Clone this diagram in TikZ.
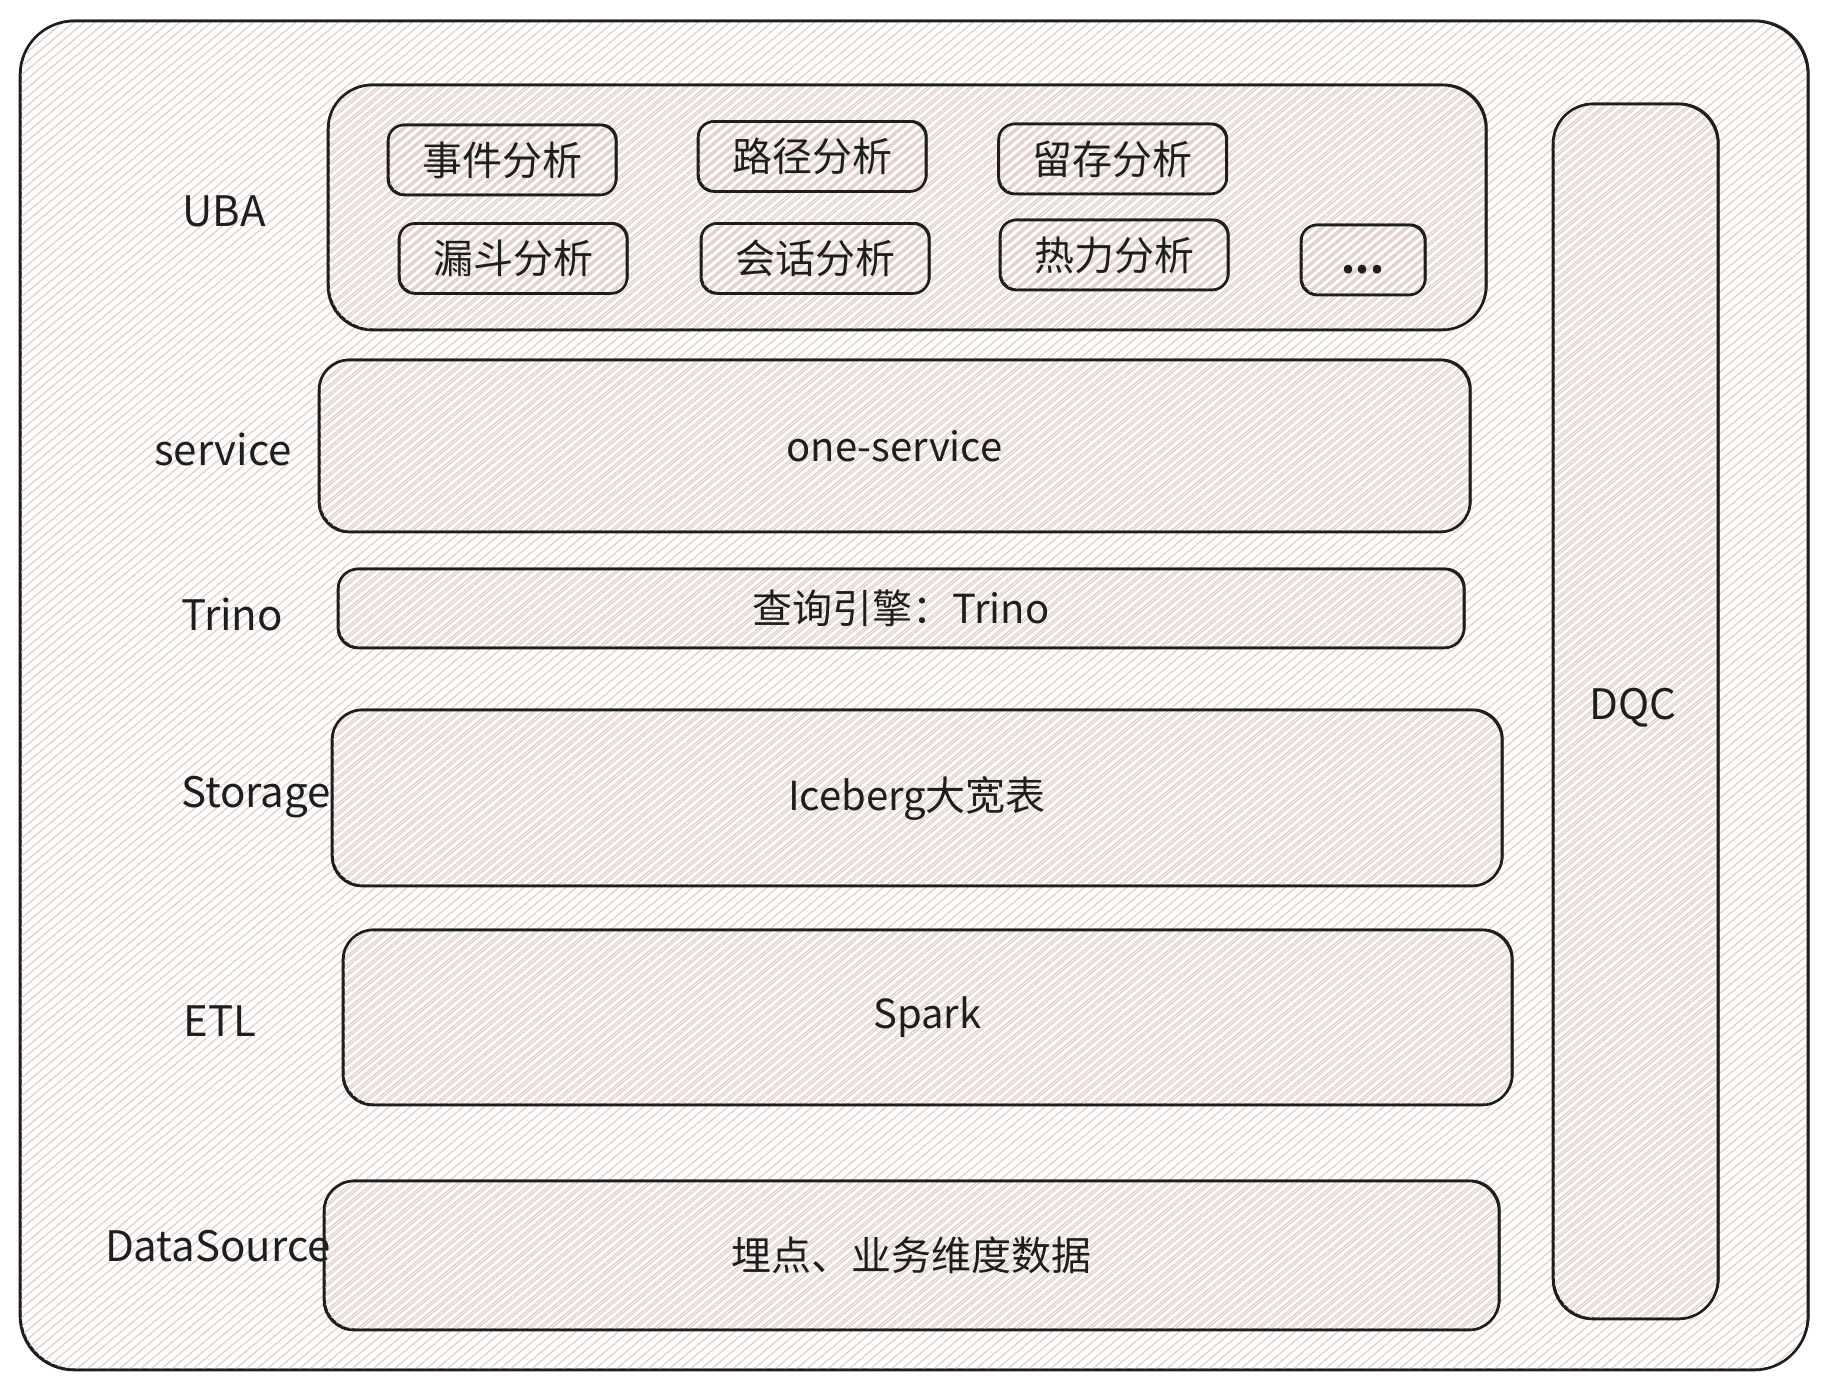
\documentclass[tikz,border=0pt]{standalone}
\usepackage{fontspec}
\setmainfont{Noto Sans CJK SC}
\usetikzlibrary{patterns.meta}
\definecolor{hatch}{RGB}{226,210,203}
\definecolor{ink}{RGB}{30,30,30}
\begin{document}
\begin{tikzpicture}[x=0.5pt,y=-0.5pt,
  every node/.style={inner sep=0pt, text=ink, font=\fontsize{20pt}{24pt}\selectfont},
  sk/.style={draw=ink, line width=1.3pt, line join=round,
    preaction={draw=ink, line width=0.5pt, transform canvas={xshift=0.6pt,yshift=0.5pt}}},
  outerbox/.style={sk, rounded corners=27pt,
    pattern={Lines[angle=40,distance=3.4pt,line width=0.7pt]}, pattern color=hatch},
  layerbox/.style={sk,
    pattern={Lines[angle=40,distance=3.4pt,line width=0.7pt,xshift=1.7pt]}, pattern color=hatch},
  smallbox/.style={sk, rounded corners=8pt, minimum width=114pt, minimum height=35pt,
    pattern={Lines[angle=40,distance=3.4pt,line width=0.6pt,xshift=0.85pt]}, pattern color=hatch},
  lab/.style={font=\fontsize{21pt}{24pt}\selectfont}
]
\useasboundingbox (0,0) rectangle (1828,1389);
% outer frame
\node[outerbox, minimum width=894pt, minimum height=674.5pt] (outer) at (914,695.5) {};
% UBA container
\node[layerbox, rounded corners=22pt, minimum width=579pt, minimum height=122.5pt] (uba) at (907,207.5) {};
\node[smallbox] (b1) at (502,160) {事件分析};
\node[smallbox] (b2) at (812,156.5) {路径分析};
\node[smallbox] (b3) at (1112.5,159) {留存分析};
\node[smallbox] (b4) at (513,258.5) {漏斗分析};
\node[smallbox] (b5) at (815,258.5) {会话分析};
\node[smallbox] (b6) at (1114,255) {热力分析};
\node[smallbox, minimum width=62pt] (b7) at (1363,260) {};
\node (b7t) at ([yshift=-5pt]b7.center) {\textbf{...}};
% layers
\node[layerbox, rounded corners=15pt, minimum width=575.5pt, minimum height=86pt] (svc) at (894.5,446) {one-service};
\node[layerbox, rounded corners=10pt, minimum width=563pt, minimum height=39.5pt] (trino) at (901,608.5) {查询引擎：Trino};
\node[layerbox, rounded corners=15pt, minimum width=585pt, minimum height=88pt] (stor) at (917,798) {Iceberg大宽表};
\node[layerbox, rounded corners=15pt, minimum width=584.5pt, minimum height=87.5pt] (etl) at (927.5,1017.5) {Spark};
\node[layerbox, rounded corners=15pt, minimum width=587.5pt, minimum height=74.5pt] (ds) at (911.5,1255.5) {埋点、业务维度数据};
% DQC
\node[layerbox, rounded corners=20pt, minimum width=82.5pt, minimum height=607.5pt] (dqc) at (1635.5,711.5) {};
\node[lab] (dqct) at (1633,708) {DQC};
% left labels
\node[lab] (lUBA) at (224,211) {UBA};
\node[lab] (lsvc) at (223,449) {service};
\node[lab] (ltrino) at (232,614) {Trino};
\node[lab] (lstor) at (256,797) {Storage};
\node[lab] (letl) at (220,1021) {ETL};
\node[lab] (lds) at (218,1246) {DataSource};
\end{tikzpicture}
\end{document}
